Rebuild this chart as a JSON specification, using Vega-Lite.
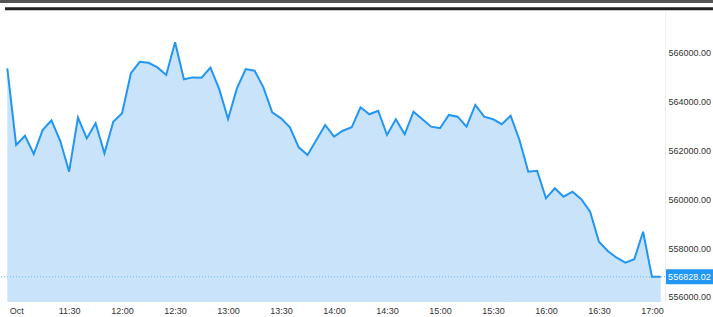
{
  "$schema": "https://vega.github.io/schema/vega-lite/v6.json",
  "width": 665,
  "height": 290,
  "autosize": {"type": "none"},
  "padding": {"left": 0, "top": 12, "right": 48, "bottom": 15},
  "background": "white",
  "config": {
    "view": {"stroke": null},
    "font": "Liberation Sans",
    "axis": {"labelFont": "Liberation Sans", "labelFontSize": 9, "labelColor": "#333", "grid": false, "ticks": false}
  },
  "data": {"values": [
    {"time": "2023-10-02T10:55:00", "price": 565370},
    {"time": "2023-10-02T11:00:00", "price": 562230},
    {"time": "2023-10-02T11:05:00", "price": 562610},
    {"time": "2023-10-02T11:10:00", "price": 561860},
    {"time": "2023-10-02T11:15:00", "price": 562840},
    {"time": "2023-10-02T11:20:00", "price": 563240},
    {"time": "2023-10-02T11:25:00", "price": 562390},
    {"time": "2023-10-02T11:30:00", "price": 561135},
    {"time": "2023-10-02T11:35:00", "price": 563350},
    {"time": "2023-10-02T11:40:00", "price": 562500},
    {"time": "2023-10-02T11:45:00", "price": 563120},
    {"time": "2023-10-02T11:50:00", "price": 561890},
    {"time": "2023-10-02T11:55:00", "price": 563185},
    {"time": "2023-10-02T12:00:00", "price": 563530},
    {"time": "2023-10-02T12:05:00", "price": 565170},
    {"time": "2023-10-02T12:10:00", "price": 565640},
    {"time": "2023-10-02T12:15:00", "price": 565600},
    {"time": "2023-10-02T12:20:00", "price": 565410},
    {"time": "2023-10-02T12:25:00", "price": 565100},
    {"time": "2023-10-02T12:30:00", "price": 566440},
    {"time": "2023-10-02T12:35:00", "price": 564920},
    {"time": "2023-10-02T12:40:00", "price": 565000},
    {"time": "2023-10-02T12:45:00", "price": 564990},
    {"time": "2023-10-02T12:50:00", "price": 565400},
    {"time": "2023-10-02T12:55:00", "price": 564520},
    {"time": "2023-10-02T13:00:00", "price": 563295},
    {"time": "2023-10-02T13:05:00", "price": 564550},
    {"time": "2023-10-02T13:10:00", "price": 565340},
    {"time": "2023-10-02T13:15:00", "price": 565275},
    {"time": "2023-10-02T13:20:00", "price": 564590},
    {"time": "2023-10-02T13:25:00", "price": 563570},
    {"time": "2023-10-02T13:30:00", "price": 563320},
    {"time": "2023-10-02T13:35:00", "price": 562955},
    {"time": "2023-10-02T13:40:00", "price": 562135},
    {"time": "2023-10-02T13:45:00", "price": 561820},
    {"time": "2023-10-02T13:50:00", "price": 562430},
    {"time": "2023-10-02T13:55:00", "price": 563050},
    {"time": "2023-10-02T14:00:00", "price": 562570},
    {"time": "2023-10-02T14:05:00", "price": 562815},
    {"time": "2023-10-02T14:10:00", "price": 562955},
    {"time": "2023-10-02T14:15:00", "price": 563775},
    {"time": "2023-10-02T14:20:00", "price": 563490},
    {"time": "2023-10-02T14:25:00", "price": 563635},
    {"time": "2023-10-02T14:30:00", "price": 562640},
    {"time": "2023-10-02T14:35:00", "price": 563285},
    {"time": "2023-10-02T14:40:00", "price": 562670},
    {"time": "2023-10-02T14:45:00", "price": 563595},
    {"time": "2023-10-02T14:50:00", "price": 563285},
    {"time": "2023-10-02T14:55:00", "price": 562980},
    {"time": "2023-10-02T15:00:00", "price": 562915},
    {"time": "2023-10-02T15:05:00", "price": 563460},
    {"time": "2023-10-02T15:10:00", "price": 563390},
    {"time": "2023-10-02T15:15:00", "price": 562980},
    {"time": "2023-10-02T15:20:00", "price": 563870},
    {"time": "2023-10-02T15:25:00", "price": 563390},
    {"time": "2023-10-02T15:30:00", "price": 563285},
    {"time": "2023-10-02T15:35:00", "price": 563080},
    {"time": "2023-10-02T15:40:00", "price": 563430},
    {"time": "2023-10-02T15:45:00", "price": 562435},
    {"time": "2023-10-02T15:50:00", "price": 561135},
    {"time": "2023-10-02T15:55:00", "price": 561175},
    {"time": "2023-10-02T16:00:00", "price": 560045},
    {"time": "2023-10-02T16:05:00", "price": 560455},
    {"time": "2023-10-02T16:10:00", "price": 560110},
    {"time": "2023-10-02T16:15:00", "price": 560315},
    {"time": "2023-10-02T16:20:00", "price": 560005},
    {"time": "2023-10-02T16:25:00", "price": 559495},
    {"time": "2023-10-02T16:30:00", "price": 558265},
    {"time": "2023-10-02T16:35:00", "price": 557885},
    {"time": "2023-10-02T16:40:00", "price": 557610},
    {"time": "2023-10-02T16:45:00", "price": 557405},
    {"time": "2023-10-02T16:50:00", "price": 557545},
    {"time": "2023-10-02T16:55:00", "price": 558675},
    {"time": "2023-10-02T17:00:00", "price": 556828.02},
    {"time": "2023-10-02T17:05:00", "price": 556828.02}
  ]},
  "layer": [
    {
      "mark": {
        "type": "area", "clip": true, "opacity": 1,
        "fill": {"gradient": "linear", "x1": 0, "y1": 0, "x2": 0, "y2": 1,
          "stops": [{"offset": 0, "color": "#c9e3fb"}, {"offset": 1, "color": "#eff7fe"}]}
      },
      "encoding": {
        "x": {
          "field": "time", "type": "temporal", "title": null,
          "scale": {"padding": 0, "domain": [
            {"year": 2023, "month": 10, "date": 2, "hours": 10, "minutes": 50, "seconds": 52},
            {"year": 2023, "month": 10, "date": 2, "hours": 17, "minutes": 7, "seconds": 24}
          ]},
          "axis": {
            "orient": "bottom", "domain": false, "labelPadding": 4, "format": "%H:%M",
            "values": [
              {"year": 2023, "month": 10, "date": 2, "hours": 11, "minutes": 0},
              {"year": 2023, "month": 10, "date": 2, "hours": 11, "minutes": 30},
              {"year": 2023, "month": 10, "date": 2, "hours": 12, "minutes": 0},
              {"year": 2023, "month": 10, "date": 2, "hours": 12, "minutes": 30},
              {"year": 2023, "month": 10, "date": 2, "hours": 13, "minutes": 0},
              {"year": 2023, "month": 10, "date": 2, "hours": 13, "minutes": 30},
              {"year": 2023, "month": 10, "date": 2, "hours": 14, "minutes": 0},
              {"year": 2023, "month": 10, "date": 2, "hours": 14, "minutes": 30},
              {"year": 2023, "month": 10, "date": 2, "hours": 15, "minutes": 0},
              {"year": 2023, "month": 10, "date": 2, "hours": 15, "minutes": 30},
              {"year": 2023, "month": 10, "date": 2, "hours": 16, "minutes": 0},
              {"year": 2023, "month": 10, "date": 2, "hours": 16, "minutes": 30},
              {"year": 2023, "month": 10, "date": 2, "hours": 17, "minutes": 0}
            ],
            "labelExpr": "datum.label == '11:00' ? 'Oct' : datum.label"
          }
        },
        "y": {
          "field": "price", "type": "quantitative", "title": null,
          "scale": {"domain": [555795, 567680], "zero": false, "nice": false, "padding": 0},
          "axis": {
            "orient": "right", "values": [556000, 558000, 560000, 562000, 564000, 566000],
            "format": ".2f", "labelPadding": 3, "domain": true, "domainColor": "#eeeeee"
          }
        }
      }
    },
    {
      "transform": [{"filter": {"field": "time", "equal": {"year": 2023, "month": 10, "date": 2, "hours": 17, "minutes": 5}}}],
      "mark": {"type": "rule", "color": "#64b5f6", "strokeDash": [1, 2], "strokeWidth": 1},
      "encoding": {
        "y": {"field": "price", "type": "quantitative"}
      }
    },
    {
      "mark": {"type": "line", "color": "#2196f3", "strokeWidth": 2},
      "encoding": {
        "x": {"field": "time", "type": "temporal"},
        "y": {"field": "price", "type": "quantitative"}
      }
    },
    {
      "transform": [{"filter": {"field": "time", "equal": {"year": 2023, "month": 10, "date": 2, "hours": 17, "minutes": 5}}}],
      "mark": {"type": "bar", "color": "#2196f3", "size": 15, "clip": false, "orient": "horizontal"},
      "encoding": {
        "x": {"datum": {"year": 2023, "month": 10, "date": 2, "hours": 17, "minutes": 7, "seconds": 58}, "type": "temporal"},
        "x2": {"datum": {"year": 2023, "month": 10, "date": 2, "hours": 17, "minutes": 34, "seconds": 34}},
        "y": {"field": "price", "type": "quantitative"}
      }
    },
    {
      "transform": [{"filter": {"field": "time", "equal": {"year": 2023, "month": 10, "date": 2, "hours": 17, "minutes": 5}}}],
      "mark": {"type": "text", "color": "white", "align": "left", "baseline": "middle", "fontSize": 9, "font": "Liberation Sans", "clip": false},
      "encoding": {
        "x": {"datum": {"year": 2023, "month": 10, "date": 2, "hours": 17, "minutes": 9, "seconds": 10}, "type": "temporal"},
        "y": {"field": "price", "type": "quantitative"},
        "text": {"field": "price", "type": "quantitative", "format": ".2f"}
      }
    },
    {
      "data": {"values": [{}]},
      "mark": {"type": "rule", "color": "#555555", "strokeWidth": 3, "clip": false},
      "encoding": {
        "x": {"datum": {"year": 2023, "month": 10, "date": 2, "hours": 10, "minutes": 50, "seconds": 52}, "type": "temporal"},
        "x2": {"datum": {"year": 2023, "month": 10, "date": 2, "hours": 17, "minutes": 34, "seconds": 34}},
        "y": {"datum": 568110, "type": "quantitative"}
      }
    },
    {
      "data": {"values": [{}]},
      "mark": {"type": "rule", "color": "#222222", "strokeWidth": 3, "clip": false},
      "encoding": {
        "x": {"datum": {"year": 2023, "month": 10, "date": 2, "hours": 10, "minutes": 53, "seconds": 42}, "type": "temporal"},
        "x2": {"datum": {"year": 2023, "month": 10, "date": 2, "hours": 17, "minutes": 34, "seconds": 34}},
        "y": {"datum": 567815, "type": "quantitative"}
      }
    }
  ]
}
